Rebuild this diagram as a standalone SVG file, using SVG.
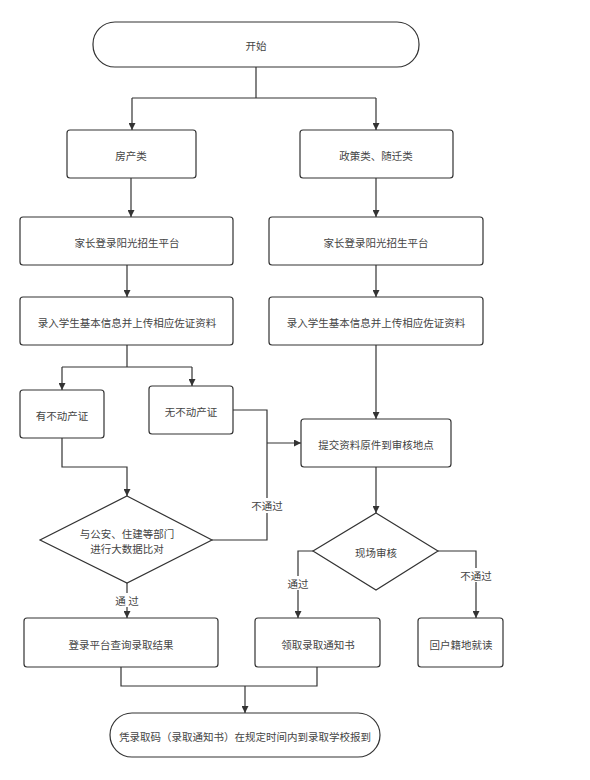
<svg xmlns="http://www.w3.org/2000/svg" width="590" height="780" viewBox="0 0 590 780">
<defs>
<style>
.n{fill:#fff;stroke:#333;stroke-width:1.2}
.t{font-family:"Noto Sans CJK SC","Noto Sans",sans-serif;font-size:10.5px;fill:#444;text-anchor:middle;dominant-baseline:central}
.c{fill:none;stroke:#333;stroke-width:1.2}
.lb{fill:#fff}
</style>
<marker id="a" viewBox="0 0 10 10" refX="10" refY="5" markerUnits="userSpaceOnUse" markerWidth="9" markerHeight="7" orient="auto">
<path d="M0,0 L10,5 L0,10 z" fill="#333"/>
</marker>
</defs>
<rect width="590" height="780" fill="#fff"/>
<g id="connectors">
<path class="c" d="M256,67 V98 M132,98 H376"/>
<path class="c" d="M132,98 V130" marker-end="url(#a)"/>
<path class="c" d="M376,98 V130" marker-end="url(#a)"/>
<path class="c" d="M131,178 V217" marker-end="url(#a)"/>
<path class="c" d="M376,178 V217" marker-end="url(#a)"/>
<path class="c" d="M127,265 V297" marker-end="url(#a)"/>
<path class="c" d="M376,265 V297" marker-end="url(#a)"/>
<path class="c" d="M127,345 V367 M62,367 H192"/>
<path class="c" d="M62,367 V390" marker-end="url(#a)"/>
<path class="c" d="M192,367 V386" marker-end="url(#a)"/>
<path class="c" d="M376,345 V419" marker-end="url(#a)"/>
<path class="c" d="M233,410 H267 V540 H212"/>
<path class="c" d="M267,443 H301" marker-end="url(#a)"/>
<path class="c" d="M62,438 V467 H127 V496" marker-end="url(#a)"/>
<path class="c" d="M376,467 V513" marker-end="url(#a)"/>
<path class="c" d="M127,583 V618" marker-end="url(#a)"/>
<path class="c" d="M313,551 H298 V618" marker-end="url(#a)"/>
<path class="c" d="M438,551 H476 V618" marker-end="url(#a)"/>
<path class="c" d="M121,667 V686 H317 V667"/>
<path class="c" d="M245,686 V713" marker-end="url(#a)"/>
<rect class="lb" x="250" y="498" width="34" height="15"/>
<text class="t" x="267" y="505.5">不通过</text>
<rect class="lb" x="286" y="576" width="24" height="14"/>
<text class="t" x="298" y="583">通过</text>
<rect class="lb" x="459" y="568" width="34" height="14"/>
<text class="t" x="476" y="575">不通过</text>
<rect class="lb" x="111" y="593" width="32" height="14"/>
<text class="t" x="127" y="600">通 过</text>
</g>
<g id="start"><rect class="n" x="93" y="22" width="326" height="45" rx="22" ry="22"/><text class="t" x="256" y="45">开始</text></g>
<g id="fangchan"><rect class="n" x="67" y="130" width="129" height="48" rx="3"/><text class="t" x="131" y="155">房产类</text></g>
<g id="zhengce"><rect class="n" x="300" y="130" width="153" height="48" rx="3"/><text class="t" x="376" y="155">政策类、随迁类</text></g>
<g id="login-l"><rect class="n" x="20" y="217" width="213" height="48" rx="3"/><text class="t" x="127" y="242">家长登录阳光招生平台</text></g>
<g id="login-r"><rect class="n" x="269" y="217" width="214" height="48" rx="3"/><text class="t" x="376" y="242">家长登录阳光招生平台</text></g>
<g id="input-l"><rect class="n" x="20" y="297" width="213" height="48" rx="3"/><text class="t" x="127" y="322">录入学生基本信息并上传相应佐证资料</text></g>
<g id="input-r"><rect class="n" x="269" y="297" width="214" height="48" rx="3"/><text class="t" x="376" y="322">录入学生基本信息并上传相应佐证资料</text></g>
<g id="you"><rect class="n" x="20" y="390" width="84" height="48" rx="3"/><text class="t" x="62" y="415">有不动产证</text></g>
<g id="wu"><rect class="n" x="149" y="386" width="84" height="48" rx="3"/><text class="t" x="191" y="411">无不动产证</text></g>
<g id="submit"><rect class="n" x="301" y="419" width="150" height="48" rx="3"/><text class="t" x="376" y="444">提交资料原件到审核地点</text></g>
<g id="bigdata"><polygon class="n" points="127,496 212,540 127,583 40,540"/><text class="t" x="127" y="533">与公安、住建等部门</text><text class="t" x="127" y="548">进行大数据比对</text></g>
<g id="onsite"><polygon class="n" points="376,513 438,551 376,590 313,551"/><text class="t" x="376" y="552">现场审核</text></g>
<g id="query"><rect class="n" x="24" y="618" width="194" height="49" rx="3"/><text class="t" x="121" y="644">登录平台查询录取结果</text></g>
<g id="notice"><rect class="n" x="255" y="618" width="125" height="49" rx="3"/><text class="t" x="318" y="644">领取录取通知书</text></g>
<g id="back"><rect class="n" x="418" y="618" width="85" height="49" rx="3"/><text class="t" x="461" y="644">回户籍地就读</text></g>
<g id="end"><rect class="n" x="110" y="713" width="270" height="44" rx="22" ry="22"/><text class="t" x="245" y="736">凭录取码（录取通知书）在规定时间内到录取学校报到</text></g>
</svg>
